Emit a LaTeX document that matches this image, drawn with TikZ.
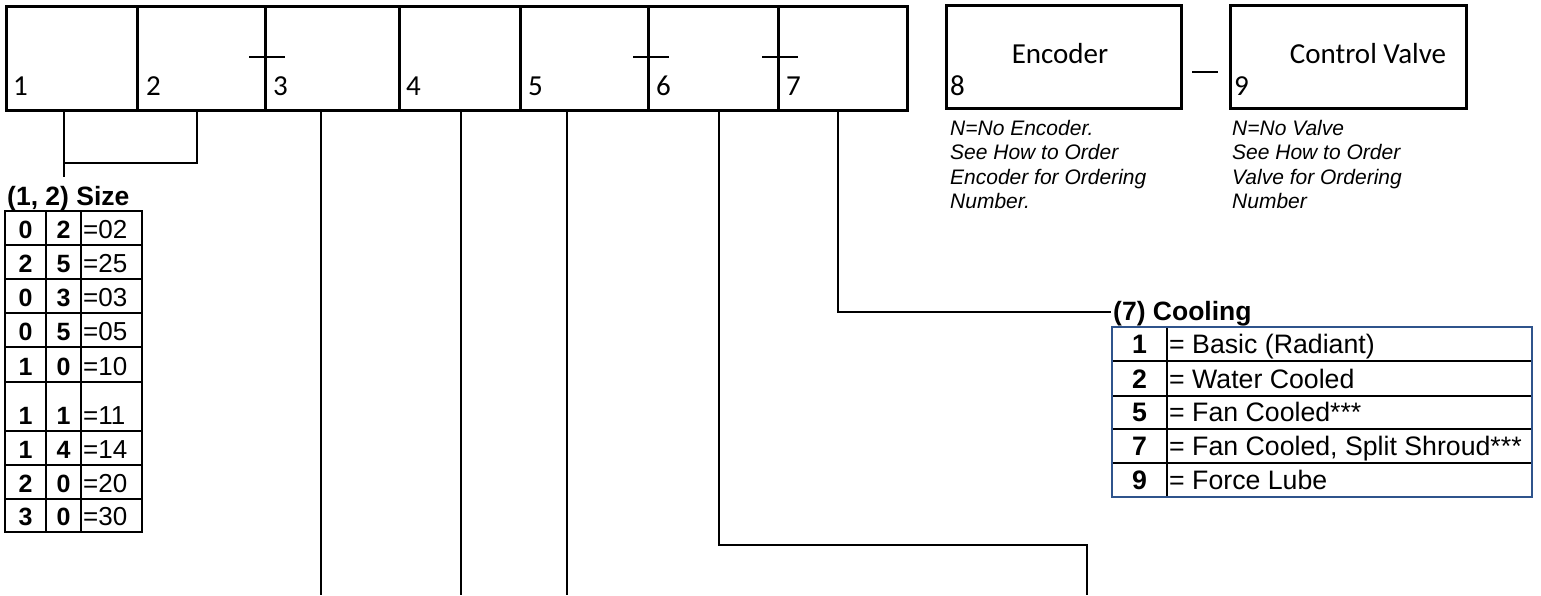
\documentclass[tikz,border=0pt]{standalone}
\usepackage{fontspec}
\setmainfont{Liberation Sans}
\newfontfamily\calib{Carlito}
\definecolor{cblue}{RGB}{47,84,140}
\begin{document}
\begin{tikzpicture}[x=1pt,y=-1pt,
  seg/.style={draw, line width=3pt, minimum width=#1, minimum height=104pt, anchor=north west, inner sep=0pt, outer sep=0pt},
  sbox/.style={draw, line width=3pt, minimum width=#1, minimum height=103pt, anchor=north west, inner sep=0pt, outer sep=0pt},
  lbl/.style={anchor=base west, inner sep=0pt, font=\calib\fontsize{29}{32}\selectfont},
  conn/.style={line width=2pt},
  tick/.style={line width=1.5pt},
  note/.style={anchor=north west, inner sep=0pt, align=left, font=\itshape\fontsize{21}{24.3}\selectfont},
  ttl/.style={anchor=base west, inner sep=0pt, font=\bfseries\fontsize{26.5}{28}\selectfont},
  tbl/.style={line width=2.5pt},
  dig/.style={anchor=base, inner sep=0pt, font=\bfseries\fontsize{25}{26}\selectfont},
  val/.style={anchor=base west, inner sep=0pt, font=\fontsize{26}{28}\selectfont},
  cval/.style={anchor=base west, inner sep=0pt, font=\fontsize{26.7}{28}\selectfont},
  cdig/.style={anchor=base, inner sep=0pt, font=\bfseries\fontsize{26.7}{28}\selectfont}
]
\useasboundingbox (0,0) rectangle (1541,595);

% main segmented box
\node[seg=131pt] (s1) at (6,6) {};
\node[seg=128pt] (s2) at (137,6) {};
\node[seg=134pt] (s3) at (265,6) {};
\node[seg=121pt] (s4) at (399,6) {};
\node[seg=128pt] (s5) at (520,6) {};
\node[seg=130pt] (s6) at (648,6) {};
\node[seg=129pt] (s7) at (778,6) {};

\node[lbl] (l1) at (13,95) {1};
\node[lbl] (l2) at (146,95) {2};
\node[lbl] (l3) at (273,95) {3};
\node[lbl] (l4) at (406,95) {4};
\node[lbl] (l5) at (528,95) {5};
\node[lbl] (l6) at (656,95) {6};
\node[lbl] (l7) at (786,95) {7};

% ticks
\draw[tick] (249,57) -- (285,57);
\draw[tick] (633,57) -- (669,57);
\draw[tick] (762,57) -- (798,57);

% encoder / valve
\node[sbox=235pt] (enc) at (946,5) {};
\node[sbox=236pt] (valve) at (1230,5) {};
\node[anchor=base, inner sep=0pt, font=\calib\fontsize{29}{32}\selectfont] (enct) at (1060,63) {Encoder};
\node[anchor=base, inner sep=0pt, font=\calib\fontsize{29}{32}\selectfont] (valt) at (1368,63) {Control Valve};
\node[lbl] (l8) at (950,95) {8};
\node[lbl] (l9) at (1234,95) {9};
\draw[tick] (1192,72) -- (1218,72);

\node[note] (encnote) at (950,120) {N=No Encoder.\\See How to Order\\Encoder for Ordering\\Number.};
\node[note] (valnote) at (1232,120) {N=No Valve\\See How to Order\\Valve for Ordering\\Number};

% connectors
\coordinate (c1) at (64,177);
\coordinate (c2) at (197,163);
\draw[conn] (s1.south -| c1) -- (c1);
\draw[conn] (s2.south -| c2) -- (c2) -- (c2 -| c1);
\coordinate (b3) at (321,595);
\coordinate (b4) at (461,595);
\coordinate (b5) at (567,595);
\draw[conn] (s3.south -| b3) -- (b3);
\draw[conn] (s4.south -| b4) -- (b4);
\draw[conn] (s5.south -| b5) -- (b5);
\coordinate (b6a) at (719,545);
\coordinate (b6) at (1087,595);
\draw[conn] (s6.south -| b6a) -- (b6a) -- (b6a -| b6) -- (b6);
\coordinate (b7a) at (838,312);
\coordinate (b7) at (1111,312);
\draw[conn] (s7.south -| b7a) -- (b7a) -- (b7);

% size table
\node[ttl] (sizet) at (7,205) {(1, 2) Size};
\foreach \ya/\yb/\a/\b/\v [count=\i] in {211/245/0/2/02, 245/279/2/5/25, 279/313/0/3/03, 313/347/0/5/05, 347/382/1/0/10, 382/431/1/1/11, 431/465/1/4/14, 465/499/2/0/20, 499/532/3/0/30}{
  \draw[tbl] (5,\ya) rectangle (46,\yb);
  \draw[tbl] (46,\ya) rectangle (81,\yb);
  \draw[tbl] (81,\ya) rectangle (142,\yb);
  \node[dig] (sa\i) at (25.5,\yb-7) {\a};
  \node[dig] (sb\i) at (63.5,\yb-7) {\b};
  \node[val] (sv\i) at (83,\yb-7) {=\v};
}

% cooling table
\node[ttl, font=\bfseries\fontsize{26.5}{28}\selectfont] (coolt) at (1113,320) {(7) Cooling};
\foreach \ya/\yb/\d/\t [count=\i] in {327/361/1/= Basic (Radiant), 361/396/2/= Water Cooled, 396/429/5/= Fan Cooled***, 429/463/7/{= Fan Cooled, Split Shroud***}, 463/497/9/= Force Lube}{
  \draw[line width=2pt] (1112,\yb) -- (1532,\yb);
  \node[cdig] (cd\i) at (1139.5,\yb-8) {\d};
  \node[cval] (ct\i) at (1169,\yb-8) {\t};
}
\draw[line width=2pt] (1167,327) -- (1167,497);
\draw[line width=2pt, cblue] (1112,327) rectangle (1532,497);
\end{tikzpicture}
\end{document}
